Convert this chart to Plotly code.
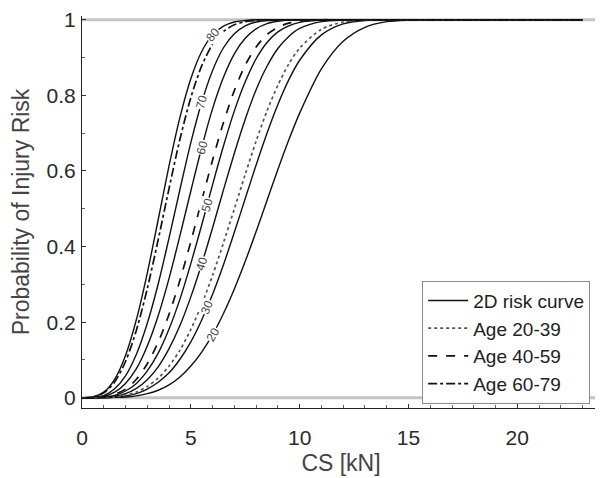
import math
import plotly.graph_objects as go

# CS grid (kN) and probability values
CS = [0, 0.5, 1, 1.5, 2, 2.5, 3, 3.5, 4, 4.5, 5, 5.5, 6, 6.5, 7, 7.5, 8, 8.5, 9, 9.5,
      10, 11, 12, 13, 14, 15, 16, 18, 20, 23]

age80 = [0, 0.002, 0.015, 0.049, 0.112, 0.207, 0.330, 0.471, 0.614, 0.742, 0.844, 0.916, 0.960,
         0.983, 0.994, 0.998, 1.0, 1.0, 1.0, 1.0, 1.0, 1, 1, 1, 1, 1, 1, 1, 1, 1]
age70 = [0, 0.001, 0.006, 0.024, 0.058, 0.115, 0.197, 0.301, 0.423, 0.551, 0.675, 0.782, 0.866,
         0.926, 0.963, 0.984, 0.994, 0.998, 0.999, 1.0, 1.0, 1, 1, 1, 1, 1, 1, 1, 1, 1]
age60 = [0, 0, 0.004, 0.015, 0.038, 0.077, 0.137, 0.217, 0.316, 0.429, 0.547, 0.662, 0.765,
         0.848, 0.910, 0.951, 0.976, 0.990, 0.996, 0.999, 1.0, 1, 1, 1, 1, 1, 1, 1, 1, 1]
age50 = [0, 0, 0.002, 0.006, 0.018, 0.038, 0.071, 0.118, 0.182, 0.261, 0.355, 0.457, 0.564,
         0.666, 0.759, 0.836, 0.897, 0.940, 0.968, 0.984, 0.993, 0.999, 1.0, 1, 1, 1, 1, 1, 1, 1]
age40 = [0, 0, 0.001, 0.004, 0.011, 0.025, 0.048, 0.082, 0.130, 0.191, 0.267, 0.354, 0.450,
         0.550, 0.647, 0.737, 0.815, 0.877, 0.924, 0.956, 0.977, 0.995, 0.999, 1.0, 1, 1, 1, 1, 1, 1]
age30 = [0, 0, 0, 0.002, 0.005, 0.011, 0.023, 0.041, 0.066, 0.102, 0.148, 0.206, 0.274,
         0.352, 0.438, 0.527, 0.616, 0.700, 0.776, 0.841, 0.893, 0.960, 0.989, 0.998, 1.0, 1, 1,
         1, 1, 1]
age20 = [0, 0, 0, 0.001, 0.002, 0.005, 0.011, 0.020, 0.034, 0.055, 0.084, 0.121, 0.167,
         0.223, 0.288, 0.361, 0.440, 0.522, 0.604, 0.682, 0.753, 0.870, 0.943, 0.980, 0.995,
         0.999, 1.0, 1, 1, 1]

grp20_39 = [0, 0, 0.001, 0.002, 0.007, 0.015, 0.030, 0.052, 0.084, 0.126, 0.181, 0.247, 0.324,
            0.410, 0.500, 0.591, 0.679, 0.759, 0.827, 0.883, 0.925, 0.975, 0.994, 0.999, 1.0,
            1, 1, 1, 1, 1]
grp40_59 = [0, 0, 0.002, 0.009, 0.023, 0.049, 0.090, 0.147, 0.221, 0.311, 0.413, 0.522, 0.629,
            0.728, 0.813, 0.880, 0.928, 0.961, 0.980, 0.991, 0.996, 1.0, 1, 1, 1, 1, 1, 1, 1, 1]
grp60_79 = [0, 0.002, 0.013, 0.042, 0.096, 0.179, 0.289, 0.418, 0.554, 0.684, 0.794, 0.878, 0.935,
            0.969, 0.987, 0.995, 0.998, 1.0, 1.0, 1.0, 1.0, 1, 1, 1, 1, 1, 1, 1, 1, 1]

solid_curves = [("80", age80), ("70", age70), ("60", age60), ("50", age50),
                ("40", age40), ("30", age30), ("20", age20)]
# label anchor: (index, use midpoint with next grid point)
label_anchor = {"80": (12, False), "70": (11, False), "60": (11, False), "50": (11, True),
                "40": (11, False), "30": (11, True), "20": (12, False)}

group_curves = [("Age 20-39", grp20_39, "dot", "#555555", 1.7),
                ("Age 40-59", grp40_59, "dash", "#111111", 1.7),
                ("Age 60-79", grp60_79, "dashdot", "#111111", 1.7)]

FONT = "Liberation Sans, Arial, sans-serif"
X_RANGE = [0, 23.8]
Y_RANGE = [-0.027, 1.01]
FIG_W, FIG_H = 595, 470          # page body adds an 8px offset
MARGIN = dict(l=74, r=3, t=8, b=70)
PLOT_W = FIG_W - MARGIN["l"] - MARGIN["r"]
PLOT_H = FIG_H - MARGIN["t"] - MARGIN["b"]

fig = go.Figure()

for i, (name, ys) in enumerate(solid_curves):
    fig.add_trace(go.Scatter(
        x=CS, y=ys, mode="lines", name="2D risk curve",
        legendgroup="2d", showlegend=(i == 0),
        line=dict(color="#111111", width=1.4, shape="spline", smoothing=0.8),
    ))

for name, ys, dash, color, w in group_curves:
    fig.add_trace(go.Scatter(
        x=CS, y=ys, mode="lines", name=name,
        line=dict(color=color, width=w, dash=dash, shape="spline", smoothing=0.8),
    ))

# contour-style labels on the solid curves
px_per_x = PLOT_W / (X_RANGE[1] - X_RANGE[0])
px_per_y = PLOT_H / (Y_RANGE[1] - Y_RANGE[0])
for name, ys in solid_curves:
    k, mid = label_anchor[name]
    if mid:
        lx, ly = (CS[k] + CS[k + 1]) / 2, (ys[k] + ys[k + 1]) / 2
        slope = (ys[k + 1] - ys[k]) / (CS[k + 1] - CS[k])
    else:
        lx, ly = CS[k], ys[k]
        slope = (ys[k + 1] - ys[k - 1]) / (CS[k + 1] - CS[k - 1])
    ang = -math.degrees(math.atan2(slope * px_per_y, px_per_x))
    fig.add_annotation(
        x=lx, y=ly, text=name, showarrow=False, textangle=ang,
        font=dict(family=FONT, size=12, color="#444444"),
        bgcolor="white", borderpad=0,
    )

# light reference lines at 0 and 1
for yv in (0, 1):
    fig.add_shape(type="line", xref="paper", x0=0, x1=1, yref="y", y0=yv, y1=yv,
                  line=dict(color="#c4c4c4", width=3), layer="below")

tick_font = dict(family=FONT, size=21, color="#2a2a2a")
title_font = dict(family=FONT, size=23, color="#444444")

fig.update_layout(
    width=FIG_W, height=FIG_H,
    margin=MARGIN,
    paper_bgcolor="white", plot_bgcolor="white",
    font=dict(family=FONT, color="#333333"),
    legend=dict(
        x=0.981, y=0.325, xanchor="right", yanchor="top",
        bgcolor="white", bordercolor="#8a8a8a", borderwidth=1,
        font=dict(family=FONT, size=19, color="#222222"),
        tracegroupgap=0, itemwidth=40,
    ),
    xaxis=dict(
        range=X_RANGE, showgrid=False, zeroline=False, automargin=False,
        showline=True, linecolor="#222222", linewidth=1,
        tickmode="array", tickvals=[0, 5, 10, 15, 20], ticktext=["0", "5", "10", "15", "20"],
        ticks="inside", ticklen=4, tickcolor="#333333",
        minor=dict(ticks="inside", ticklen=3, dtick=1, tick0=0, tickcolor="#666666", showgrid=False),
        tickfont=tick_font, ticklabelstandoff=11,
        title=dict(text="CS [kN]", font=title_font, standoff=6),
    ),
    yaxis=dict(
        range=Y_RANGE, showgrid=False, zeroline=False, automargin=False,
        showline=True, linecolor="#222222", linewidth=1,
        tickmode="array", tickvals=[0, 0.2, 0.4, 0.6, 0.8, 1],
        ticktext=["0", "0.2", "0.4", "0.6", "0.8", "1"],
        ticks="inside", ticklen=4, tickcolor="#333333",
        minor=dict(ticks="inside", ticklen=3, dtick=0.1, tick0=0, tickcolor="#666666", showgrid=False),
        tickfont=tick_font, ticklabelstandoff=1,
        title=dict(text="Probability of Injury Risk", font=title_font, standoff=17),
    ),
)

fig.write_html("out.html")
